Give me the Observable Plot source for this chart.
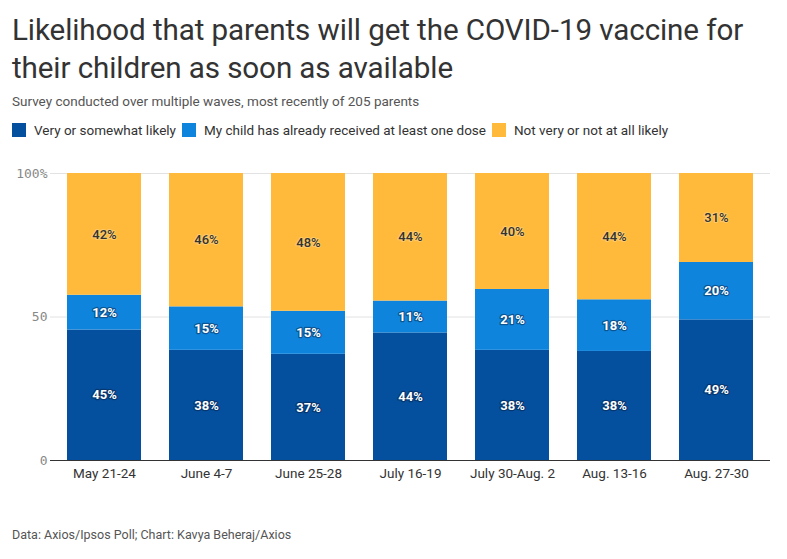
<!DOCTYPE html>
<html>
<head>
<meta charset="utf-8">
<script src="https://cdn.jsdelivr.net/npm/d3@7"></script>
<script src="https://cdn.jsdelivr.net/npm/@observablehq/plot@0.6"></script>
<style>
  html, body { margin: 0; padding: 0; background: #fff; }
  body { width: 787px; height: 559px; position: relative; overflow: hidden; font-family: Roboto, "Noto Sans", sans-serif; }
  #title { position: absolute; left: 12px; top: 11px; font-size: 29.6px; line-height: 38px; color: #333; font-weight: 400; letter-spacing: -0.1px; }
  #subtitle { position: absolute; left: 12px; top: 93px; font-size: 13.5px; color: #555; }
  #legend { position: absolute; left: 12px; top: 122px; font-size: 13.5px; color: #333; display: flex; align-items: center; }
  .item { display: flex; align-items: center; margin-right: 6px; }
  .sw { width: 14px; height: 14px; margin-right: 8px; display: inline-block; }
  #chart { position: absolute; left: 0; top: 150px; }
  #footer { position: absolute; left: 12px; top: 527px; font-size: 12.5px; color: #555; }
</style>
</head>
<body>
<div id="title">Likelihood that parents will get the COVID-19 vaccine for<br>their children as soon as available</div>
<div id="subtitle">Survey conducted over multiple waves, most recently of 205 parents</div>
<div id="legend"></div>
<div id="chart"></div>
<div id="footer">Data: Axios/Ipsos Poll; Chart: Kavya Beheraj/Axios</div>
<script>
const waves = ["May 21-24", "June 4-7", "June 25-28", "July 16-19", "July 30-Aug. 2", "Aug. 13-16", "Aug. 27-30"];
const seriesNames = ["Very or somewhat likely", "My child has already received at least one dose", "Not very or not at all likely"];
const likely = [45, 38, 37, 44, 38, 38, 49];
const received = [12, 15, 15, 11, 21, 18, 20];
const notLikely = [42, 46, 48, 44, 40, 44, 31];
const colors = ["#044f9e", "#0f84dd", "#ffba3c"];
const yTicks = [0, 0.5, 1];
const yTickLabels = ["0", "50", "100%"];

const seriesValues = [likely, received, notLikely];
const data = [];
waves.forEach((w, i) => {
  seriesNames.forEach((s, j) => {
    data.push({wave: w, series: s, value: seriesValues[j][i]});
  });
});

// legend
const legend = document.getElementById("legend");
seriesNames.forEach((s, j) => {
  const it = document.createElement("div");
  it.className = "item";
  it.innerHTML = `<span class="sw" style="background:${colors[j]}"></span><span>${s}</span>`;
  legend.appendChild(it);
});

const isTop = (d) => d.series === seriesNames[2];
const stackOpts = {offset: "normalize", x: "wave", y: "value", text: (d) => d.value + "%"};

const chart = Plot.plot({
  width: 787,
  height: 340,
  marginLeft: 50,
  marginRight: 17,
  marginTop: 23,
  marginBottom: 30,
  style: {fontFamily: "Roboto, sans-serif", fontSize: "13.5px", color: "#333", background: "#fff"},
  x: {domain: waves, label: null, padding: 0.27, paddingOuter: 0.155, tickSize: 0, tickPadding: 8},
  y: {domain: [0, 1], label: null, ticks: yTicks, tickFormat: (d) => yTickLabels[yTicks.indexOf(d)], tickSize: 0, tickPadding: 3},
  color: {domain: seriesNames, range: colors},
  marks: [
    Plot.gridY(yTicks.slice(1), {stroke: "#e2e2e2", strokeOpacity: 1}),
    Plot.barY(data, Plot.stackY({offset: "normalize", x: "wave", y: "value", fill: "series"})),
    Plot.text(data, Plot.filter((d) => !isTop(d), Plot.stackY({
      ...stackOpts,
      fill: "#fff",
      stroke: "#0a1a35",
      strokeOpacity: 0.45,
      strokeWidth: 2.5,
      fontWeight: "bold",
      fontSize: 13
    }))),
    Plot.text(data, Plot.filter(isTop, Plot.stackY({
      ...stackOpts,
      fill: "#333",
      stroke: "#fff",
      strokeOpacity: 0.25,
      strokeWidth: 2,
      fontWeight: 500,
      fontSize: 13
    }))),
    Plot.ruleY([0], {stroke: "#333", strokeWidth: 1.2})
  ]
});
document.getElementById("chart").appendChild(chart);
d3.select(chart).selectAll("g[aria-label='y-axis tick label']")
  .style("font-family", "'DejaVu Sans Mono', monospace").attr("fill", "#888").style("font-size", "13px");
</script>
</body>
</html>
